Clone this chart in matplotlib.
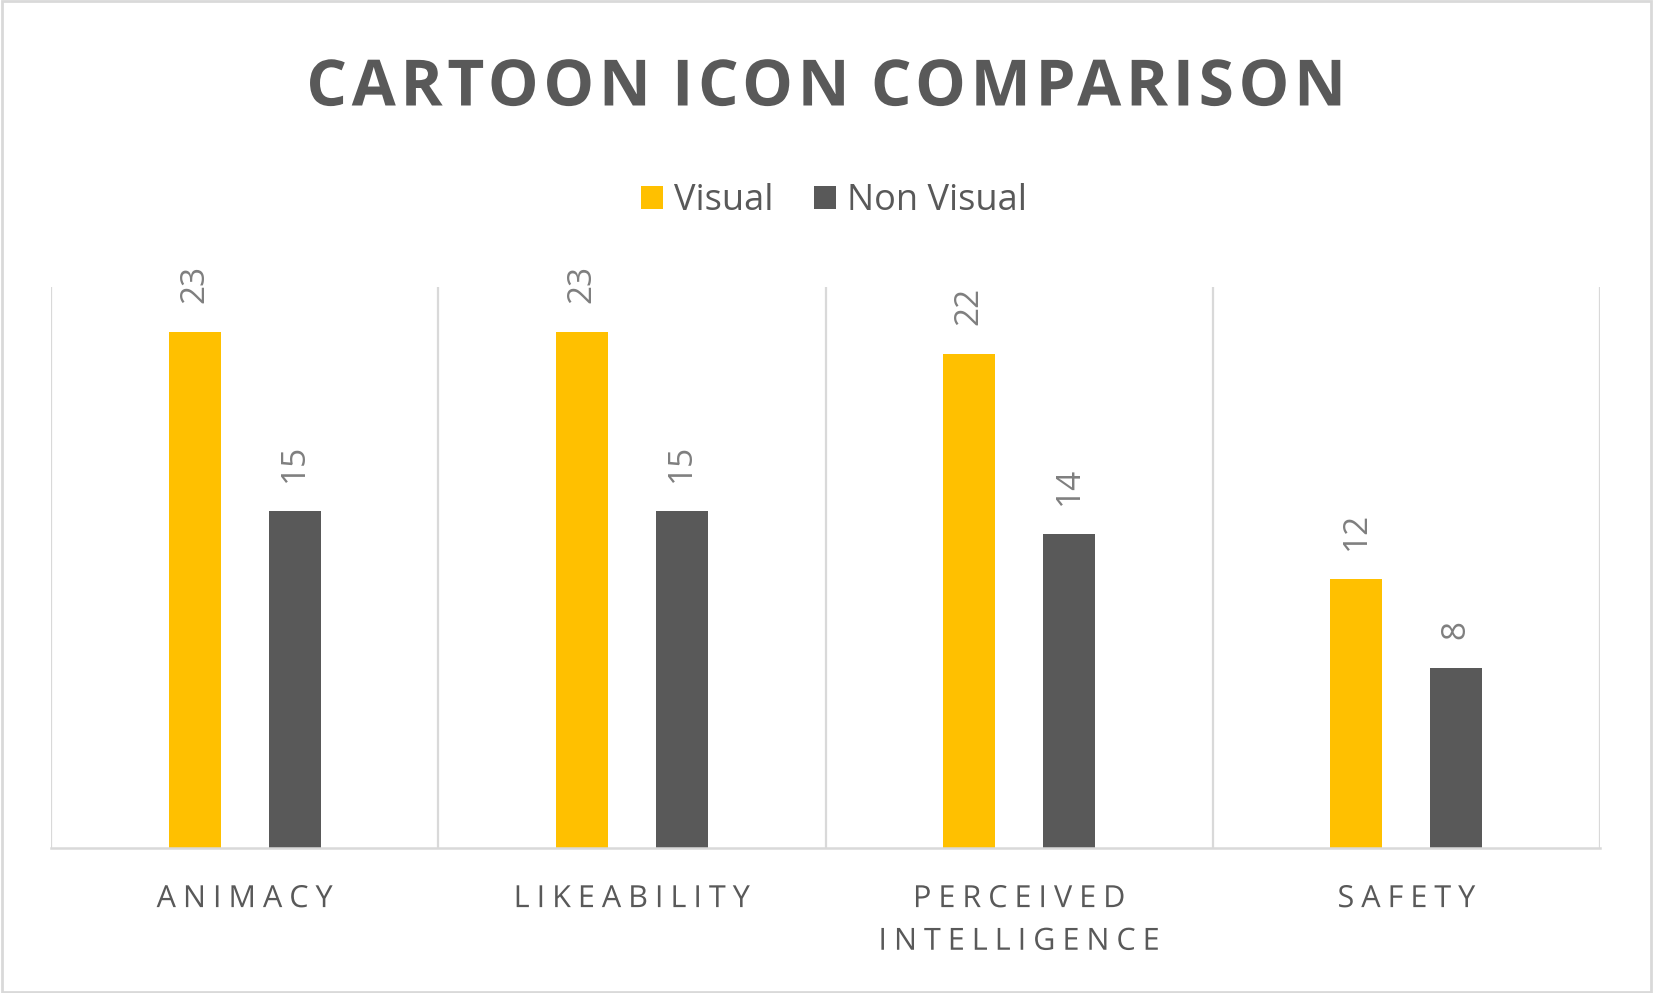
import numpy as np
import matplotlib
matplotlib.use("Agg")
import matplotlib.pyplot as plt
from matplotlib.patches import Rectangle
from matplotlib.path import Path
from matplotlib.patheffects import AbstractPathEffect
from matplotlib.transforms import IdentityTransform

categories = ["ANIMACY", "LIKEABILITY", "PERCEIVED\nINTELLIGENCE", "SAFETY"]
visual = [23, 23, 22, 12]
non_visual = [15, 15, 14, 8]

YELLOW = "#FFC000"
DARK = "#595959"
GRID = "#D9D9D9"
LABEL = "#7F7F7F"


class Tracking(AbstractPathEffect):
    """Spread the glyphs of a text line apart by `px` pixels (letter spacing)."""

    def __init__(self, px):
        super().__init__()
        self.px = px

    def draw_path(self, renderer, gc, tpath, affine, rgbFace=None):
        verts = affine.transform(tpath.vertices)
        codes = tpath.codes
        starts = list(np.where(codes == Path.MOVETO)[0]) + [len(codes)]
        parts = [(starts[i], starts[i + 1]) for i in range(len(starts) - 1)]
        boxes = [(verts[a:b, 0].min(), verts[a:b, 0].max(),
                  verts[a:b, 1].min(), verts[a:b, 1].max()) for a, b in parts]
        # holes (contained in another contour) follow their outer contour
        owner = list(range(len(parts)))
        for i, bi in enumerate(boxes):
            for j, bj in enumerate(boxes):
                if i != j and bj[0] <= bi[0] and bi[1] <= bj[1] and bj[2] <= bi[2] and bi[3] <= bj[3]:
                    owner[i] = j
        outers = sorted(set(owner), key=lambda k: boxes[k][0])
        idx = {k: n for n, k in enumerate(outers)}
        shift0 = self.px * (len(outers) - 1) / 2
        new = verts.copy()
        for i, (a, b) in enumerate(parts):
            new[a:b, 0] += self.px * idx[owner[i]] - shift0
        renderer.draw_path(gc, Path(new, codes), IdentityTransform(), rgbFace)


plt.rcParams["font.family"] = ["Open Sans", "DejaVu Sans"]

fig = plt.figure(figsize=(16.53, 9.93), dpi=100)
ax = fig.add_axes([51 / 1653, 1 - 848 / 993, 1549 / 1653, 561 / 993])

x = np.arange(len(categories)) + 0.5
w = 0.134
off = 0.129
b1 = ax.bar(x - off, visual, w, color=YELLOW, label="Visual")
b2 = ax.bar(x + off, non_visual, w, color=DARK, label="Non Visual")

for bars in (b1, b2):
    ax.bar_label(bars, rotation=90, padding=21, fontsize=24, color=LABEL)

ax.set_xlim(0, len(categories))
ax.set_ylim(0, 25)
ax.set_yticks([])
ax.set_xticks(x)
ax.set_xticklabels(categories, fontsize=22, color=DARK, linespacing=1.55)
ax.tick_params(axis="x", length=0, pad=26)
for lbl in ax.get_xticklabels():
    lbl.set_path_effects([Tracking(7)])

# category separators
for xv in range(len(categories) + 1):
    ax.axvline(xv, color=GRID, lw=1.6, zorder=0)
for s in ["top", "left", "right"]:
    ax.spines[s].set_visible(False)
ax.spines["bottom"].set_color(GRID)
ax.spines["bottom"].set_linewidth(1.8)

title = fig.text(0.5, 1 - 89 / 993, "CARTOON ICON COMPARISON", ha="center", va="center",
                 fontsize=46, fontweight="bold", color=DARK)
title.set_path_effects([Tracking(4.7)])

fig.legend(loc="center", bbox_to_anchor=(0.5045, 1 - 201 / 993), ncol=2, frameon=False,
           fontsize=26, labelcolor=DARK, handlelength=0.62, handleheight=0.62,
           handletextpad=0.3, columnspacing=1.1)

# outer chart border
fig.patches.append(Rectangle((0.001, 0.001), 0.998, 0.998, transform=fig.transFigure,
                             fill=False, edgecolor=GRID, lw=2))

fig.savefig("out.png", dpi=100, facecolor="white")
